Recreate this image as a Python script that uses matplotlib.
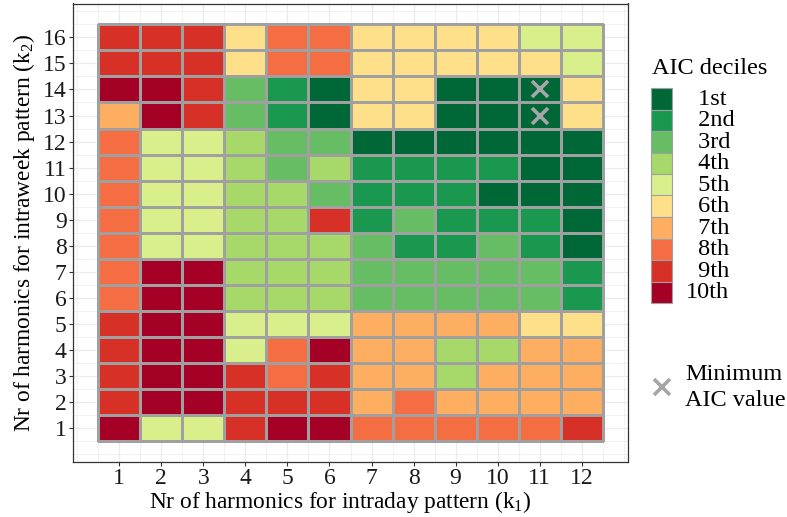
import numpy as np
import matplotlib
matplotlib.use("Agg")
import matplotlib.pyplot as plt
from matplotlib.colors import ListedColormap, BoundaryNorm
from matplotlib.patches import Rectangle
from matplotlib.lines import Line2D

plt.rcParams['font.family'] = ['Liberation Serif', 'DejaVu Serif']
plt.rcParams['mathtext.fontset'] = 'custom'
plt.rcParams['mathtext.rm'] = 'Liberation Serif'
plt.rcParams['mathtext.it'] = 'Liberation Serif'

# harmonics grid
k1 = list(range(1, 13))
k2 = list(range(1, 17))

# AIC decile per (k2, k1), rows listed from k2 = 16 down to k2 = 1
deciles_top_down = [
    [9, 9, 9, 6, 8, 8, 6, 6, 6, 6, 5, 5],
    [9, 9, 9, 6, 8, 8, 6, 6, 6, 6, 6, 5],
    [10, 10, 9, 3, 2, 1, 6, 6, 1, 1, 1, 6],
    [7, 10, 9, 3, 2, 1, 6, 6, 1, 1, 1, 6],
    [8, 5, 5, 4, 3, 3, 1, 1, 1, 1, 1, 1],
    [8, 5, 5, 4, 3, 4, 2, 2, 2, 2, 1, 1],
    [8, 5, 5, 4, 4, 3, 2, 2, 2, 1, 1, 1],
    [8, 5, 5, 4, 4, 9, 2, 3, 2, 2, 2, 1],
    [8, 5, 5, 4, 4, 4, 3, 2, 2, 3, 2, 1],
    [8, 10, 10, 4, 4, 4, 3, 3, 3, 3, 3, 2],
    [8, 10, 10, 4, 4, 4, 3, 3, 3, 3, 3, 2],
    [9, 10, 10, 5, 5, 5, 7, 7, 7, 7, 6, 6],
    [9, 10, 10, 5, 8, 10, 7, 7, 4, 4, 7, 7],
    [9, 10, 10, 9, 8, 9, 7, 7, 4, 7, 7, 7],
    [9, 10, 10, 9, 9, 9, 7, 8, 7, 7, 7, 7],
    [10, 5, 5, 9, 10, 10, 8, 8, 8, 8, 8, 9],
]

# minimum AIC cells
min_k1 = [11, 11]
min_k2 = [14, 13]

decile_labels = ["1st", "2nd", "3rd", "4th", "5th", "6th", "7th", "8th", "9th", "10th"]
decile_colors = ['#006837', '#1a9850', '#66bd63', '#a6d96a', '#d9ef8b',
                 '#fee08b', '#fdae61', '#f46d43', '#d73027', '#a50026']

W, H = 787, 517
EDGE = '#a0a0a0'
XCOL = '#a6a6a6'

deciles = np.flipud(np.array(deciles_top_down))
cmap = ListedColormap(decile_colors)
norm = BoundaryNorm(np.arange(0.5, 11.5, 1), cmap.N)

fig = plt.figure(figsize=(W / 100, H / 100), dpi=100)
ax = fig.add_axes([73 / W, 1 - 462 / H, 555 / W, 458.5 / H])

x_edges = np.arange(0.5, len(k1) + 1)
y_edges = np.arange(0.5, len(k2) + 1)
ax.pcolormesh(x_edges, y_edges, deciles, cmap=cmap, norm=norm,
              edgecolors=EDGE, linewidth=0.8, zorder=2)

ax.plot(min_k1, min_k2, linestyle='none', marker='x', markersize=12,
        markeredgewidth=2.6, color=XCOL, zorder=3)

ax.set_xlim(-0.1, 13.1)
ax.set_ylim(-0.3, 17.3)
ax.set_xticks(k1)
ax.set_yticks(k2)
ax.set_xticks(np.arange(0, 13.5, 0.5), minor=True)
ax.set_yticks(np.arange(0, 17.5, 0.5), minor=True)
ax.grid(which='major', color='#ebebeb', linewidth=0.9)
ax.grid(which='minor', color='#ebebeb', linewidth=0.5)
ax.set_axisbelow(True)
ax.tick_params(which='minor', length=0)
ax.tick_params(which='major', length=3, width=0.8, color='#333333',
               labelsize=17, labelcolor='#1a1a1a', pad=1.5)
for sp in ax.spines.values():
    sp.set_color('#333333')
    sp.set_linewidth(0.9)

ax.set_xlabel(r"Nr of harmonics for intraday pattern (k$_{1}$)", fontsize=16.8)
ax.set_ylabel(r"Nr of harmonics for intraweek pattern (k$_{2}$)", fontsize=16.8, labelpad=4)
ax.xaxis.set_label_coords(0.481, -0.058)


def fx(px):
    return px / W


def fy(py):
    return 1 - py / H


# decile legend, keys stacked without gaps
fig.text(fx(652), fy(68), "AIC deciles", fontsize=17.5, ha='left', va='center')
key_top, key_h = 88, 21.5
for i, (c, lab) in enumerate(zip(decile_colors, decile_labels)):
    top = key_top + i * key_h
    fig.add_artist(Rectangle((fx(651), fy(top + key_h)), 21 / W, key_h / H,
                             transform=fig.transFigure, facecolor=c,
                             edgecolor=EDGE, linewidth=0.8))
    text = lab if len(lab) == 4 else "\u2007" + lab
    fig.text(fx(686), fy(top + key_h / 2 + 0.5), text, fontsize=17.5,
             ha='left', va='center')

# minimum AIC legend entry
fig.add_artist(Line2D([fx(662)], [fy(387)], transform=fig.transFigure,
                      linestyle='none', marker='x', markersize=12,
                      markeredgewidth=2.6, color=XCOL))
fig.text(fx(685), fy(375), "Minimum", fontsize=17.5, ha='left', va='center')
fig.text(fx(685), fy(400), "AIC value", fontsize=17.5, ha='left', va='center')

fig.savefig("out.png", dpi=100)
